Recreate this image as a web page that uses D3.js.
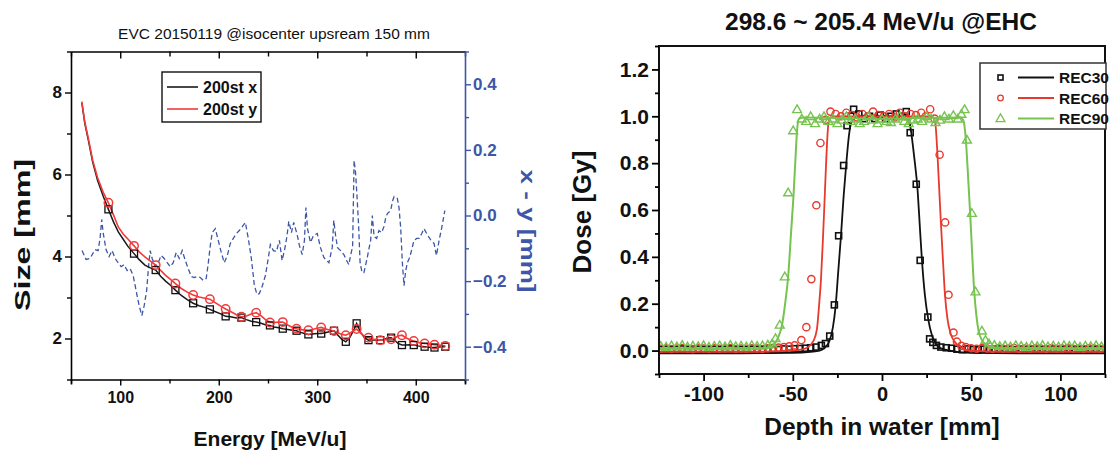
<!DOCTYPE html>
<html>
<head>
<meta charset="utf-8">
<script src="https://d3js.org/d3.v7.min.js"></script>
<style>
  html, body { margin: 0; padding: 0; background: #fff; }
  svg { display: block; font-family: Arial, "Liberation Sans", sans-serif; }
</style>
</head>
<body>
<svg id="chart" width="1113" height="454"></svg>
<script>
// ---------------- Left panel: beam size vs energy ----------------
const sizeTicks = [2, 4, 6, 8];
const diffTicks = [-0.4, -0.2, 0.0, 0.2, 0.4];
const energyTicks = [100, 200, 300, 400];

// 200st x (line points)
const sizeXLine = [[61,7.75],[64,7.25],[67.6,6.84],[72,6.30],[77,5.85],[83,5.45],[88,5.15],[93,4.85],[98,4.60],[103,4.42],[108,4.24],[114,4.07],[119,3.93],[125,3.79],[130,3.73],[136,3.67],[141,3.52],[146,3.40],[151,3.30],[156,3.18],[162,3.05],[168,2.95],[174,2.86],[180,2.80],[186,2.76],[191,2.71],[196,2.66],[202,2.60],[207,2.54],[212,2.53],[218,2.50],[223,2.51],[228,2.46],[233,2.42],[238,2.40],[243,2.37],[248,2.33],[252,2.32],[256,2.28],[261,2.26],[265,2.24],[270,2.22],[275,2.20],[279,2.19],[283,2.15],[287,2.12],[291,2.10],[295,2.11],[300,2.12],[304,2.12],[308,2.14],[313,2.17],[317,2.19],[321,2.08],[325,1.98],[329,1.92],[333,2.02],[337,2.20],[340,2.37],[344,2.15],[348,2.02],[352,1.96],[356,1.97],[360,1.96],[364,1.96],[368,1.98],[371,2.01],[375,2.02],[379,1.95],[382,1.88],[386,1.84],[390,1.84],[394,1.85],[398,1.84],[402,1.82],[405,1.81],[409,1.80],[412,1.79],[416,1.78],[419,1.78],[423,1.79],[427,1.80],[430,1.80]];
// 200st y (line points)
const sizeYLine = [[61,7.78],[64,7.28],[67.6,6.88],[72,6.35],[77,5.92],[83,5.55],[88,5.31],[93,5.02],[98,4.72],[103,4.55],[108,4.42],[114,4.26],[119,4.12],[125,3.99],[130,3.90],[136,3.79],[141,3.66],[146,3.54],[151,3.44],[156,3.34],[162,3.22],[168,3.13],[174,3.06],[180,3.01],[186,2.98],[191,2.96],[196,2.88],[202,2.79],[207,2.72],[212,2.66],[218,2.58],[223,2.53],[228,2.55],[233,2.60],[238,2.63],[243,2.55],[248,2.45],[252,2.39],[256,2.39],[261,2.40],[265,2.40],[270,2.33],[275,2.27],[279,2.24],[283,2.22],[287,2.21],[291,2.20],[295,2.22],[300,2.25],[304,2.27],[308,2.24],[313,2.20],[317,2.18],[321,2.14],[325,2.10],[329,2.08],[333,2.13],[337,2.19],[340,2.23],[344,2.13],[348,2.05],[352,2.02],[356,1.99],[360,1.97],[364,1.96],[368,1.97],[371,1.98],[375,1.98],[379,2.02],[382,2.06],[386,2.08],[390,2.02],[394,1.97],[398,1.94],[402,1.91],[405,1.89],[409,1.88],[412,1.87],[416,1.86],[419,1.85],[423,1.84],[427,1.83],[430,1.82]];

// symbol energies and values
const markerEnergy = [88,114,136,156,174,191,207,223,238,252,265,279,291,304,317,329,340,352,364,375,386,398,409,419,430];
const sizeXMarks = [5.15,4.07,3.67,3.18,2.86,2.71,2.54,2.51,2.40,2.32,2.24,2.19,2.10,2.12,2.19,1.92,2.37,1.96,1.96,2.02,1.84,1.84,1.80,1.78,1.80];
const sizeYMarks = [5.31,4.26,3.79,3.34,3.06,2.96,2.72,2.53,2.63,2.39,2.40,2.24,2.20,2.27,2.18,2.08,2.23,2.02,1.96,1.98,2.08,1.94,1.88,1.85,1.82];

// x - y difference
const diffLine = [[61.2,-0.107],[65.3,-0.134],[69.3,-0.131],[74.4,-0.104],[77.5,-0.107],[79.5,-0.070],[81.2,-0.012],[82.6,-0.052],[85.6,-0.104],[88.7,-0.125],[91.7,-0.107],[94.8,-0.131],[97.8,-0.144],[100.9,-0.156],[103.9,-0.150],[107,-0.168],[110,-0.162],[113.1,-0.183],[116.1,-0.229],[119.2,-0.275],[121.9,-0.305],[124.3,-0.275],[126.8,-0.229],[128.8,-0.153],[130.4,-0.107],[132.4,-0.131],[135.5,-0.156],[138.5,-0.144],[141.6,-0.122],[144.6,-0.131],[147.7,-0.144],[150.7,-0.156],[153.8,-0.144],[156.8,-0.113],[159.9,-0.131],[162.9,-0.107],[166,-0.137],[169,-0.162],[172.1,-0.186],[175.1,-0.189],[178.2,-0.186],[181.2,-0.189],[184.3,-0.198],[187.3,-0.192],[189.4,-0.144],[191.4,-0.092],[193.4,-0.052],[196.5,-0.040],[199.5,-0.076],[202.6,-0.113],[205.6,-0.144],[208.7,-0.122],[211.7,-0.085],[214.8,-0.070],[217.8,-0.055],[220.9,-0.046],[223.9,-0.034],[227,-0.021],[230,-0.070],[233.1,-0.131],[236.2,-0.214],[238.9,-0.241],[241.3,-0.238],[244.3,-0.214],[247.4,-0.183],[250.4,-0.128],[252.4,-0.089],[255.5,-0.107],[258.5,-0.110],[261.6,-0.076],[264.3,-0.137],[266.7,-0.107],[269.2,-0.064],[271.1,-0.018],[273.8,-0.052],[276.1,-0.021],[279.6,-0.058],[281.9,-0.092],[284.7,-0.119],[287.0,-0.076],[288.5,0.024],[290.1,-0.040],[293.1,-0.082],[296.2,-0.061],[300,-0.055],[303.3,-0.098],[306.7,-0.128],[309.4,-0.137],[311.8,-0.144],[315.2,-0.098],[316.8,-0.015],[318.6,-0.061],[320.6,-0.098],[323.7,-0.107],[327,-0.119],[329.8,-0.137],[332.1,-0.150],[333.8,-0.122],[335.9,-0.095],[337.4,0.168],[338.9,0.131],[340.6,0.046],[342,-0.031],[343.5,-0.144],[345.5,-0.174],[347.4,-0.174],[350.8,-0.128],[352.7,-0.098],[354.2,-0.076],[355.9,0.0],[357.7,-0.064],[360.3,-0.070],[362.6,-0.046],[365.4,-0.052],[367.7,-0.034],[369.4,-0.009],[371.2,0.006],[374.5,0.015],[376.6,0.046],[378.1,0.058],[381.3,0.052],[383,0.024],[384.7,-0.037],[386.4,-0.144],[388.1,-0.214],[389.8,-0.168],[391.5,-0.144],[393.3,-0.131],[394.9,-0.116],[398.2,-0.076],[401,-0.070],[403.3,-0.070],[406.1,-0.055],[408.4,-0.040],[411.1,-0.055],[413.5,-0.067],[416.2,-0.079],[418.6,-0.085],[421,-0.122],[423.7,-0.076],[426.4,-0.037],[429.5,0.015]];

// ---------------- Right panel: lateral dose profiles ----------------
const doseTicks = [0.0, 0.2, 0.4, 0.6, 0.8, 1.0, 1.2];
const depthTicks = [-100, -50, 0, 50, 100];

const rec30Points = [[-124,0.004],[-121,0.006],[-118,0.003],[-115,0.005],[-112,0.007],[-109,0.004],[-106,0.002],[-103,0.006],[-100,0.005],[-97,0.003],[-94,0.006],[-91,0.004],[-88,0.005],[-85,0.007],[-82,0.003],[-79,0.005],[-76,0.004],[-73,0.006],[-70,0.005],[-67,0.003],[-64,0.006],[-61,0.004],[-58,0.005],[-55,0.007],[-52,0.006],[-49,0.008],[-46,0.009],[-43,0.010],[-40,0.012],[-37,0.015],[-34,0.022],
  [-31.7,0.03],[-29.3,0.062],[-26.7,0.195],[-24.3,0.49],[-21.5,0.79],[-19.6,0.96],[-17.5,1.0],[-15.9,1.03],
  [-13,1.01],[-10,0.99],[-7,1.0],[-4,0.99],[-1,1.005],[2,0.99],[5,1.0],[8,1.01],[11,1.0],[13.6,1.02],
  [15.8,0.93],[19.2,0.71],[21.4,0.385],[25.7,0.143],[26.7,0.05],[28.5,0.035],[30.5,0.022],[33,0.015],[36,0.012],[39,0.01],
  [42,0.006],[45,0.004],[48,0.007],[51,0.005],[54,0.003],[57,0.006],[60,0.004],[63,0.005],[66,0.007],[69,0.004],[72,0.005],[75,0.003],[78,0.006],[81,0.005],[84,0.004],[87,0.006],[90,0.003],[93,0.005],[96,0.007],[99,0.004],[102,0.005],[105,0.006],[108,0.003],[111,0.005],[114,0.004],[117,0.006],[120,0.005],[123,0.004]];

const rec60Points = [[-124,0.008],[-121,0.010],[-118,0.007],[-115,0.009],[-112,0.011],[-109,0.008],[-106,0.006],[-103,0.010],[-100,0.009],[-97,0.007],[-94,0.010],[-91,0.008],[-88,0.009],[-85,0.011],[-82,0.007],[-79,0.009],[-76,0.008],[-73,0.010],[-70,0.009],[-67,0.007],[-64,0.010],[-61,0.012],[-58,0.013],[-55,0.015],[-52,0.018],[-49,0.022],
  [-45.2,0.045],[-42.4,0.10],[-39.6,0.305],[-36.8,0.62],[-34.5,0.886],[-31.7,0.985],[-28.9,1.02],
  [-26,1.01],[-23,1.0],[-20,1.015],[-17,1.005],[-14,0.995],[-11,1.01],[-8,1.0],[-5,1.02],[-2,1.005],[1,1.0],[4,1.01],[7,0.995],[10,1.015],[13,1.0],[16,1.01],[19,1.005],[22,1.015],
  [24.5,1.0],[27,1.03],[29.5,0.99],[32.3,0.836],[35.4,0.547],[37.3,0.238],[40.1,0.077],[42,0.038],[44.5,0.02],[47,0.015],
  [50,0.010],[53,0.008],[56,0.011],[59,0.009],[62,0.007],[65,0.010],[68,0.008],[71,0.009],[74,0.011],[77,0.007],[80,0.009],[83,0.008],[86,0.010],[89,0.009],[92,0.007],[95,0.010],[98,0.008],[101,0.009],[104,0.011],[107,0.008],[110,0.009],[113,0.007],[116,0.010],[119,0.009],[122,0.008]];

const rec90Points = [[-124,0.020],[-121,0.016],[-118,0.022],[-115,0.018],[-112,0.024],[-109,0.017],[-106,0.021],[-103,0.019],[-100,0.023],[-97,0.016],[-94,0.020],[-91,0.022],[-88,0.018],[-85,0.024],[-82,0.019],[-79,0.021],[-76,0.017],[-73,0.023],[-70,0.020],[-67,0.022],[-64,0.025],
  [-61.5,0.03],[-59.7,0.053],[-57.3,0.11],[-54.5,0.316],[-52.6,0.675],[-49.8,0.94],[-47.6,1.03],
  [-45,0.99],[-42.5,0.98],[-40,1.0],[-37.5,0.97],[-35,0.99],[-32.5,1.0],[-30,0.98],[-27.5,0.99],[-25,0.97],[-22.5,0.985],[-20,1.0],[-17.5,0.98],[-15,0.99],[-12.5,0.97],[-10,0.98],[-7.5,1.0],[-5,0.985],[-2.5,0.97],[0,0.99],[2.5,0.98],[5,0.975],[7.5,0.99],[10,1.0],[12.5,0.98],[15,0.97],[17.5,0.985],[20,0.99],[22.5,0.98],[25,1.0],[27.5,0.99],[30,0.975],[32.5,0.985],[35,1.0],[37.5,0.99],[40,1.005],[42.5,0.99],[44.5,1.01],
  [46.3,1.03],[47.6,0.90],[50.4,0.587],[52.4,0.252],[56,0.085],[58,0.045],[60,0.03],
  [63,0.024],[66,0.019],[69,0.022],[72,0.017],[75,0.023],[78,0.020],[81,0.016],[84,0.022],[87,0.019],[90,0.024],[93,0.018],[96,0.021],[99,0.017],[102,0.023],[105,0.020],[108,0.022],[111,0.016],[114,0.021],[117,0.019],[120,0.023],[123,0.018]];

const rec30Fit = [[-125,-0.012],[-80,-0.012],[-50,-0.01],[-40,-0.005],[-35,0.0],[-32.5,0.01],[-29.5,0.04],[-27.5,0.10],[-26,0.19],[-24.5,0.34],[-23,0.49],[-21.5,0.66],[-20,0.80],[-18.5,0.92],[-17,0.98],[-15,1.0],[0,1.0],[14.5,1.0],[16,0.95],[18,0.83],[20,0.68],[21.2,0.53],[22.4,0.385],[24,0.24],[26,0.13],[28,0.065],[30,0.03],[33,0.01],[38,0.0],[50,-0.01],[80,-0.012],[125,-0.012]];
const rec60Fit = [[-125,-0.005],[-70,-0.005],[-50,0.0],[-45,0.005],[-42,0.012],[-38.5,0.04],[-36.5,0.09],[-35.2,0.2],[-34.2,0.305],[-33.2,0.46],[-32.3,0.62],[-31.5,0.77],[-30.8,0.886],[-30,0.97],[-28,1.0],[0,1.0],[28,1.0],[29.8,0.975],[31.1,0.836],[32,0.7],[33,0.547],[34.2,0.38],[35.3,0.238],[36.8,0.13],[38.6,0.07],[41,0.035],[44,0.015],[50,0.0],[70,-0.005],[125,-0.005]];
const rec90Fit = [[-125,0.01],[-70,0.01],[-64,0.012],[-60.7,0.025],[-58,0.06],[-56,0.11],[-54.3,0.2],[-52.6,0.316],[-51,0.5],[-49.5,0.675],[-48.5,0.82],[-47.6,0.94],[-46.5,0.99],[-44,0.995],[0,0.99],[44,0.995],[45.7,0.98],[47,0.9],[48.2,0.75],[49.4,0.587],[50.5,0.42],[51.7,0.252],[52.9,0.15],[54.1,0.085],[56,0.045],[58.8,0.022],[64,0.012],[125,0.01]];

const recNames = ["REC30", "REC60", "REC90"];

// ---------------- Drawing ----------------
const svg = d3.select("#chart");
const BLUE = "#3d56a8";
const RED = "#f23a3a";
const C30 = "#111111", C60 = "#e8392d", C90 = "#76c350";

// ----- left panel -----
const L = { x0: 71, x1: 465, y0: 51.5, y1: 379.5 };
const xE = d3.scaleLinear().domain([50, 450]).range([L.x0, L.x1]);
const yS = d3.scaleLinear().domain([1, 9]).range([L.y1, L.y0]);
const yD = d3.scaleLinear().domain([-0.5, 0.5]).range([L.y1, L.y0]);

svg.append("clipPath").attr("id", "clipL").append("rect")
  .attr("x", L.x0).attr("y", L.y0).attr("width", L.x1 - L.x0).attr("height", L.y1 - L.y0);

const gL = svg.append("g");

// bottom axis
const axB = gL.append("g").attr("transform", `translate(0,${L.y1})`)
  .call(d3.axisBottom(xE).tickValues(d3.range(50, 451, 50)).tickSize(5).tickFormat(d => energyTicks.includes(d) ? d : ""));
axB.selectAll(".tick line").attr("y2", d => energyTicks.includes(d) ? 6 : 4).attr("stroke-width", 1.4);
axB.selectAll("text").attr("font-size", 16).attr("font-weight", "bold").attr("dy", "0.95em").attr("fill", "#111");
axB.select(".domain").attr("stroke-width", 1.6);

// top axis (inward ticks, no labels)
const axT = gL.append("g").attr("transform", `translate(0,${L.y0})`)
  .call(d3.axisTop(xE).tickValues(d3.range(50, 451, 50)).tickSizeOuter(0).tickFormat(""));
axT.selectAll(".tick line").attr("y2", d => energyTicks.includes(d) ? 7 : 5).attr("stroke-width", 1.4);
axT.select(".domain").attr("stroke-width", 1.6);

// left axis
const axLft = gL.append("g").attr("transform", `translate(${L.x0},0)`)
  .call(d3.axisLeft(yS).tickValues(d3.range(1, 9.01, 1)).tickSizeOuter(0).tickFormat(d => sizeTicks.includes(d) ? d : ""));
axLft.selectAll(".tick line").attr("x2", d => sizeTicks.includes(d) ? -6 : -4).attr("stroke-width", 1.4);
axLft.selectAll("text").attr("font-size", 17).attr("font-weight", "bold").attr("x", -9).attr("fill", "#111");
axLft.select(".domain").attr("stroke-width", 1.6);

// right axis (blue)
const axR = gL.append("g").attr("transform", `translate(${L.x1},0)`)
  .call(d3.axisRight(yD).tickValues(d3.range(-5, 6).map(v => v / 10)).tickSizeOuter(0)
    .tickFormat(d => diffTicks.some(t => Math.abs(t - d) < 1e-9) ? d3.format(".1f")(d) : ""));
axR.selectAll(".tick line").attr("stroke", BLUE)
  .attr("x2", d => diffTicks.some(t => Math.abs(t - d) < 1e-9) ? 6 : 4).attr("stroke-width", 1.4);
axR.selectAll("text").attr("font-size", 17).attr("font-weight", "bold").attr("fill", BLUE).attr("x", 8);
axR.select(".domain").attr("stroke", BLUE).attr("stroke-width", 1.6);

// x - y dashed series
const plotL = gL.append("g").attr("clip-path", "url(#clipL)");
plotL.append("path").datum(diffLine)
  .attr("fill", "none").attr("stroke", BLUE).attr("stroke-width", 1.3).attr("stroke-dasharray", "5,3")
  .attr("d", d3.line().x(d => xE(d[0])).y(d => yD(d[1])));

// size lines
const sizeLine = d3.line().x(d => xE(d[0])).y(d => yS(d[1]));
plotL.append("path").datum(sizeXLine).attr("fill", "none").attr("stroke", "#1a1a1a").attr("stroke-width", 1.5).attr("d", sizeLine);
plotL.append("path").datum(sizeYLine).attr("fill", "none").attr("stroke", RED).attr("stroke-width", 1.6).attr("d", sizeLine);

// symbols
plotL.selectAll("rect.sq").data(markerEnergy.map((e, i) => [e, sizeXMarks[i]])).join("rect")
  .attr("class", "sq").attr("x", d => xE(d[0]) - 3.5).attr("y", d => yS(d[1]) - 3.5)
  .attr("width", 7).attr("height", 7).attr("fill", "none").attr("stroke", "#111").attr("stroke-width", 1.3);
plotL.selectAll("circle.ci").data(markerEnergy.map((e, i) => [e, sizeYMarks[i]])).join("circle")
  .attr("class", "ci").attr("cx", d => xE(d[0])).attr("cy", d => yS(d[1])).attr("r", 4.2)
  .attr("fill", "none").attr("stroke", RED).attr("stroke-width", 1.5);

// legend
const lgL = gL.append("g");
lgL.append("rect").attr("x", 162).attr("y", 72).attr("width", 99).attr("height", 50)
  .attr("fill", "#fff").attr("stroke", "#111").attr("stroke-width", 1.4);
[["200st x", "#1a1a1a", 87], ["200st y", RED, 109]].forEach(([t, c, y]) => {
  lgL.append("line").attr("x1", 167).attr("x2", 198).attr("y1", y).attr("y2", y).attr("stroke", c).attr("stroke-width", 1.6);
  lgL.append("text").attr("x", 203).attr("y", y + 6).attr("font-size", 16).attr("font-weight", "bold").attr("fill", "#111").text(t);
});

// titles and labels
svg.append("text").attr("x", 274).attr("y", 38.5).attr("text-anchor", "middle").attr("font-size", 15.5)
  .attr("fill", "#111").text("EVC 20150119 @isocenter upsream 150 mm");
svg.append("text").attr("x", 270).attr("y", 446).attr("text-anchor", "middle").attr("font-size", 21)
  .attr("font-weight", "bold").attr("fill", "#111").text("Energy [MeV/u]");
svg.append("text").attr("transform", "translate(30,235) rotate(-90)").attr("text-anchor", "middle")
  .attr("font-size", 22).attr("font-weight", "bold").attr("fill", "#111")
  .attr("textLength", 152).attr("lengthAdjust", "spacingAndGlyphs").text("Size [mm]");
svg.append("text").attr("transform", "translate(521,231) rotate(90)").attr("text-anchor", "middle")
  .attr("font-size", 21).attr("font-weight", "bold").attr("fill", BLUE)
  .attr("textLength", 123).attr("lengthAdjust", "spacingAndGlyphs").text("x - y [mm]");

// ----- right panel -----
const R = { x0: 659, x1: 1105, y0: 46, y1: 374 };
const xD = d3.scaleLinear().domain([-125, 125]).range([R.x0, R.x1]);
const yG = d3.scaleLinear().domain([-0.1, 1.3]).range([R.y1, R.y0]);

svg.append("clipPath").attr("id", "clipR").append("rect")
  .attr("x", R.x0).attr("y", R.y0).attr("width", R.x1 - R.x0).attr("height", R.y1 - R.y0);

const gR = svg.append("g");
const plotR = gR.append("g").attr("clip-path", "url(#clipR)");
const fitLine = d3.line().curve(d3.curveMonotoneX).x(d => xD(d[0])).y(d => yG(d[1]));

const triangle = d3.symbol().type(d3.symbolTriangle).size(34);

// REC30
plotR.append("path").datum(rec30Fit).attr("fill", "none").attr("stroke", C30).attr("stroke-width", 1.8).attr("d", fitLine);
plotR.selectAll("rect.r30").data(rec30Points).join("rect").attr("class", "r30")
  .attr("x", d => xD(d[0]) - 3).attr("y", d => yG(d[1]) - 3).attr("width", 6).attr("height", 6)
  .attr("fill", "none").attr("stroke", C30).attr("stroke-width", 1.6);
// REC60
plotR.append("path").datum(rec60Fit).attr("fill", "none").attr("stroke", C60).attr("stroke-width", 1.8).attr("d", fitLine);
plotR.selectAll("circle.r60").data(rec60Points).join("circle").attr("class", "r60")
  .attr("cx", d => xD(d[0])).attr("cy", d => yG(d[1])).attr("r", 3.6)
  .attr("fill", "none").attr("stroke", C60).attr("stroke-width", 1.4);
// REC90
plotR.append("path").datum(rec90Fit).attr("fill", "none").attr("stroke", C90).attr("stroke-width", 2).attr("d", fitLine);
plotR.selectAll("path.r90").data(rec90Points).join("path").attr("class", "r90")
  .attr("transform", d => `translate(${xD(d[0])},${yG(d[1]) + 0.8})`).attr("d", triangle)
  .attr("fill", "none").attr("stroke", C90).attr("stroke-width", 1.4);

// frame and axes
gR.append("rect").attr("x", R.x0).attr("y", R.y0).attr("width", R.x1 - R.x0).attr("height", R.y1 - R.y0)
  .attr("fill", "none").attr("stroke", "#111").attr("stroke-width", 2);

const axRB = gR.append("g").attr("transform", `translate(0,${R.y1})`)
  .call(d3.axisBottom(xD).tickValues(d3.range(-125, 126, 25)).tickSizeOuter(0)
    .tickFormat(d => depthTicks.includes(d) ? d : ""));
axRB.select(".domain").remove();
axRB.selectAll(".tick line").attr("y2", d => depthTicks.includes(d) ? 7 : 4).attr("stroke-width", 1.8);
axRB.selectAll("text").attr("font-size", 20).attr("font-weight", "bold").attr("fill", "#111").attr("y", 11).attr("dy", "0.8em");

const axRL = gR.append("g").attr("transform", `translate(${R.x0},0)`)
  .call(d3.axisLeft(yG).tickValues(d3.range(-1, 14).map(v => v / 10)).tickSizeOuter(0)
    .tickFormat(d => doseTicks.some(t => Math.abs(t - d) < 1e-9) ? d3.format(".1f")(d) : ""));
axRL.select(".domain").remove();
axRL.selectAll(".tick line").attr("x2", d => doseTicks.some(t => Math.abs(t - d) < 1e-9) ? -7 : -4).attr("stroke-width", 1.8);
axRL.selectAll("text").attr("font-size", 21).attr("font-weight", "bold").attr("fill", "#111").attr("x", -10);

// legend
const lgR = gR.append("g");
lgR.append("rect").attr("x", 980).attr("y", 63).attr("width", 126).attr("height", 66)
  .attr("fill", "#fff").attr("stroke", "#333").attr("stroke-width", 1.5);
recNames.forEach((name, i) => {
  const y = [77.5, 98, 118.5][i];
  const col = [C30, C60, C90][i];
  if (i === 0) lgR.append("rect").attr("x", 998).attr("y", y - 2.5).attr("width", 5).attr("height", 5)
    .attr("fill", "none").attr("stroke", col).attr("stroke-width", 1.6);
  if (i === 1) lgR.append("circle").attr("cx", 1000.5).attr("cy", y).attr("r", 2.8)
    .attr("fill", "none").attr("stroke", col).attr("stroke-width", 1.3);
  if (i === 2) lgR.append("path").attr("transform", `translate(1000.5,${y + 0.5})`).attr("d", triangle)
    .attr("fill", "none").attr("stroke", col).attr("stroke-width", 1.3);
  lgR.append("line").attr("x1", 1018).attr("x2", 1054).attr("y1", y).attr("y2", y).attr("stroke", col).attr("stroke-width", 2);
  lgR.append("text").attr("x", 1059).attr("y", y + 5.5).attr("font-size", 15.5).attr("font-weight", "bold")
    .attr("fill", "#111").text(name);
});

svg.append("text").attr("x", 881).attr("y", 30).attr("text-anchor", "middle").attr("font-size", 24.5)
  .attr("font-weight", "bold").attr("fill", "#111").text("298.6 ~ 205.4 MeV/u @EHC");
svg.append("text").attr("x", 882).attr("y", 435).attr("text-anchor", "middle").attr("font-size", 24.5)
  .attr("font-weight", "bold").attr("fill", "#111").text("Depth in water [mm]");
svg.append("text").attr("transform", "translate(591,212) rotate(-90)").attr("text-anchor", "middle")
  .attr("font-size", 26).attr("font-weight", "bold").attr("fill", "#111").text("Dose [Gy]");
</script>
</body>
</html>
